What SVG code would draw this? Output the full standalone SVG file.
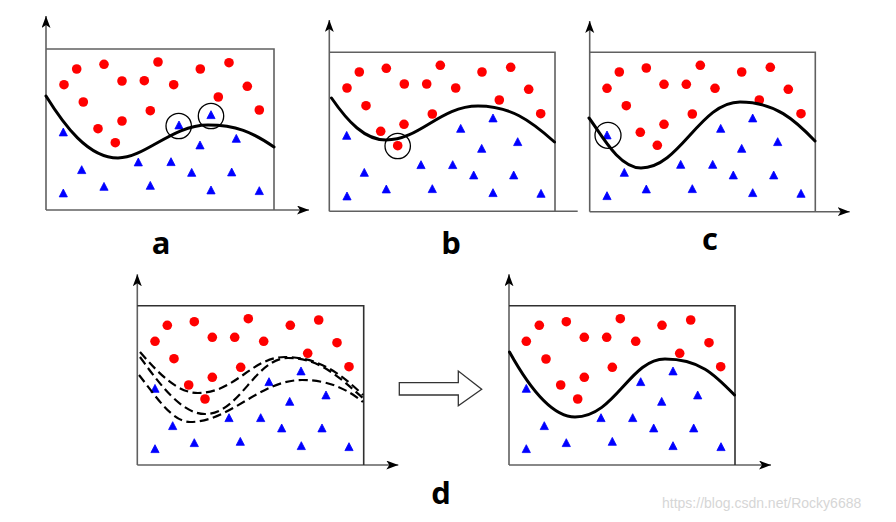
<svg xmlns="http://www.w3.org/2000/svg" width="896" height="522" viewBox="0 0 896 522">
<style>
.ax{stroke:#606060;stroke-width:1.6;fill:none}
.box{stroke:#606060;stroke-width:1.6;fill:none}
.boxd{stroke:#303030;stroke-width:1.6;fill:none}
.cur{stroke:#000;stroke-width:3;fill:none;stroke-linecap:round}
.dash{stroke:#000;stroke-width:2.2;fill:none;stroke-dasharray:9 4.5}
.ring{stroke:#000;stroke-width:1.3;fill:none}
.lab{font-family:"Open Sans","Liberation Sans",sans-serif;font-weight:700;font-size:31px;fill:#000;text-anchor:middle}
.wm{font-family:"Liberation Sans",Arial,sans-serif;font-size:14px;fill:#d6d6d6}
</style>
<defs>
<marker id="ah" markerUnits="userSpaceOnUse" markerWidth="14" markerHeight="10" refX="12" refY="4.5" orient="auto">
<path d="M0,0 L12,4.5 L0,9 L3,4.5Z" fill="#000"/>
</marker>
<circle id="r" r="4.8" fill="#ff0000"/>
<path id="t" d="M0,-4.3 L4.1,3.6 L-4.1,3.6Z" fill="#0000ff" stroke="#0000ff" stroke-width="0.8" stroke-linejoin="round"/>
</defs>

<g id="panel-a">
<path class="ax" d="M46,210 V16" marker-end="url(#ah)"/>
<path class="ax" d="M46,210 H309" marker-end="url(#ah)"/>
<path class="box" d="M46,49 H274 V210"/>
<use href="#r" x="76.7" y="69"/><use href="#r" x="104" y="64.3"/><use href="#r" x="158" y="62"/><use href="#r" x="200.3" y="69"/><use href="#r" x="229" y="62.7"/>
<use href="#r" x="64" y="84.7"/><use href="#r" x="122" y="81"/><use href="#r" x="144.3" y="80.7"/><use href="#r" x="173.7" y="84.7"/><use href="#r" x="247.3" y="86.3"/>
<use href="#r" x="83.3" y="102"/><use href="#r" x="218.3" y="97"/><use href="#r" x="150.3" y="110.7"/><use href="#r" x="259.3" y="110"/>
<use href="#r" x="122" y="121"/><use href="#r" x="98" y="128.7"/><use href="#r" x="115.3" y="142.7"/>
<use href="#t" x="63.3" y="132.3"/><use href="#t" x="179" y="125.3"/><use href="#t" x="211" y="115"/><use href="#t" x="236.3" y="138.7"/><use href="#t" x="200" y="145.3"/>
<use href="#t" x="81.7" y="170"/><use href="#t" x="138.3" y="162.3"/><use href="#t" x="171" y="162"/><use href="#t" x="191.7" y="172.7"/><use href="#t" x="231.7" y="172.3"/>
<use href="#t" x="104" y="186.7"/><use href="#t" x="150.3" y="185.7"/><use href="#t" x="63.3" y="193.3"/><use href="#t" x="211" y="190.3"/><use href="#t" x="259.3" y="191"/>
<path class="cur" d="M46,96 C64,125 88,158 118,158 C145,158 172,125 208,125 C236,125 252,132 274,147"/>
<circle class="ring" cx="178.7" cy="126" r="12.7"/>
<circle class="ring" cx="211" cy="116" r="12.7"/>
<text class="lab" x="161" y="253.5">a</text>
</g>

<g id="panel-b">
<path class="ax" d="M329.3,211.3 V20" marker-end="url(#ah)"/>
<path class="ax" d="M329.3,211.3 H577.7"/>
<path class="box" d="M329.3,52.3 H555 V211.3"/>
<use href="#r" x="359.3" y="72"/><use href="#r" x="386.3" y="68.3"/><use href="#r" x="440.3" y="65.3"/><use href="#r" x="482" y="72"/><use href="#r" x="510.7" y="67.3"/>
<use href="#r" x="347" y="88"/><use href="#r" x="404.3" y="84"/><use href="#r" x="426.7" y="84"/><use href="#r" x="455.7" y="88"/><use href="#r" x="528.7" y="89.3"/>
<use href="#r" x="366" y="105.7"/><use href="#r" x="499.3" y="100"/><use href="#r" x="432.3" y="114"/><use href="#r" x="540.7" y="113.7"/>
<use href="#r" x="404" y="124.3"/><use href="#r" x="380.7" y="131.3"/><use href="#r" x="397.7" y="145.7"/>
<use href="#t" x="346.7" y="135.7"/><use href="#t" x="460.7" y="128.7"/><use href="#t" x="493" y="118.3"/><use href="#t" x="517.7" y="142"/><use href="#t" x="481.7" y="148.7"/>
<use href="#t" x="364.3" y="172.7"/><use href="#t" x="421" y="165"/><use href="#t" x="452.7" y="165"/><use href="#t" x="473.7" y="175.3"/><use href="#t" x="513.7" y="175.3"/>
<use href="#t" x="386.3" y="189.3"/><use href="#t" x="432.3" y="189"/><use href="#t" x="347" y="196.3"/><use href="#t" x="493" y="193"/><use href="#t" x="541" y="193.7"/>
<path class="cur" d="M331.5,98 C348,122 365,140 386,140 C420,140 440,106 478,106 C510,106 530,120 554.5,142"/>
<circle class="ring" cx="397.7" cy="146" r="12.7"/>
<text class="lab" x="451" y="253.5">b</text>
</g>

<g id="panel-c">
<path class="ax" d="M589.7,211.7 V21" marker-end="url(#ah)"/>
<path class="ax" d="M589.7,211.7 H849.7" marker-end="url(#ah)"/>
<path class="box" d="M589.7,52.3 H815.3 V211.7"/>
<use href="#r" x="619.3" y="72"/><use href="#r" x="646.3" y="68"/><use href="#r" x="700.3" y="65.3"/><use href="#r" x="741.7" y="72"/><use href="#r" x="770.3" y="67.3"/>
<use href="#r" x="607" y="88.3"/><use href="#r" x="664" y="84.3"/><use href="#r" x="686.3" y="84.3"/><use href="#r" x="715" y="88.3"/><use href="#r" x="788.3" y="89.3"/>
<use href="#r" x="626.3" y="105.7"/><use href="#r" x="759.3" y="100"/><use href="#r" x="692.3" y="114"/><use href="#r" x="801" y="113.7"/>
<use href="#r" x="664" y="124.3"/><use href="#r" x="640.3" y="132.3"/><use href="#r" x="657.3" y="145.3"/>
<use href="#t" x="607" y="135.3"/><use href="#t" x="720.7" y="128.7"/><use href="#t" x="752.7" y="118.3"/><use href="#t" x="777.7" y="142"/><use href="#t" x="741.7" y="148.7"/>
<use href="#t" x="624.3" y="172.7"/><use href="#t" x="680.7" y="164.7"/><use href="#t" x="712.7" y="164.7"/><use href="#t" x="733.3" y="175.3"/><use href="#t" x="773.7" y="175.3"/>
<use href="#t" x="646.3" y="189.3"/><use href="#t" x="692.3" y="189"/><use href="#t" x="607" y="196"/><use href="#t" x="752.7" y="193"/><use href="#t" x="801" y="193.7"/>
<path class="cur" d="M589,118 C600,132 618,168 641,168 C680,168 700,102 740,102 C775,102 795,120 815,141"/>
<circle class="ring" cx="608" cy="135.3" r="13"/>
<text class="lab" x="710" y="250">c</text>
</g>

<g id="panel-d-left">
<path class="ax" d="M137.3,465 V274.3" marker-end="url(#ah)"/>
<path class="ax" d="M137.3,465 H398.3" marker-end="url(#ah)"/>
<path class="boxd" d="M137.3,305.7 H363.7 V465"/>
<use href="#r" x="167.3" y="325.3"/><use href="#r" x="194.3" y="321.7"/><use href="#r" x="248.3" y="318.7"/><use href="#r" x="290.3" y="325.3"/><use href="#r" x="318.7" y="320"/>
<use href="#r" x="155" y="341.3"/><use href="#r" x="212.3" y="337.3"/><use href="#r" x="234.7" y="337.3"/><use href="#r" x="263.7" y="341.3"/><use href="#r" x="337" y="342.7"/>
<use href="#r" x="174" y="358.7"/><use href="#r" x="307.7" y="353.3"/><use href="#r" x="240.7" y="367.3"/><use href="#r" x="349" y="366.7"/>
<use href="#r" x="212.3" y="377.3"/><use href="#r" x="188.7" y="385"/><use href="#r" x="205" y="399"/>
<use href="#t" x="155" y="388.7"/><use href="#t" x="269" y="382"/><use href="#t" x="301" y="371.3"/><use href="#t" x="326" y="395.3"/><use href="#t" x="289.7" y="401.7"/>
<use href="#t" x="172.7" y="426"/><use href="#t" x="229" y="418"/><use href="#t" x="260.7" y="418"/><use href="#t" x="281.7" y="428.3"/><use href="#t" x="322" y="428.3"/>
<use href="#t" x="194.3" y="443"/><use href="#t" x="240.3" y="441.7"/><use href="#t" x="155" y="449"/><use href="#t" x="301.3" y="446"/><use href="#t" x="349" y="447"/>
<path class="dash" d="M140,352 C160,375 178,393 198,393 C235,393 252,357 285,357 C318,357 340,373 363,395"/>
<path class="dash" d="M140,357 C160,385 182,414 205,414 C240,414 255,358 288,358 C320,358 340,378 363,398"/>
<path class="dash" d="M139,375 C155,395 172,422 190,422 C230,422 260,380 302,380 C330,380 348,390 363,402"/>
</g>

<g id="transition-arrow">
<polygon points="399.3,382.7 458.3,382.7 458.3,371 481.7,389.3 458.3,405.7 458.3,395 399.3,395" fill="#fff" stroke="#333" stroke-width="1.3" stroke-linejoin="miter"/>
</g>

<g id="panel-d-right">
<path class="ax" d="M509,465 V274.3" marker-end="url(#ah)"/>
<path class="ax" d="M509,465 H771" marker-end="url(#ah)"/>
<path class="boxd" d="M509,305.7 H735 V465"/>
<use href="#r" x="539.3" y="325.3"/><use href="#r" x="566.3" y="321.7"/><use href="#r" x="620.3" y="318.7"/><use href="#r" x="662" y="325.3"/><use href="#r" x="690.7" y="320"/>
<use href="#r" x="526.3" y="341.3"/><use href="#r" x="584.3" y="337.3"/><use href="#r" x="606.7" y="337.3"/><use href="#r" x="635.7" y="341.3"/><use href="#r" x="709" y="342.7"/>
<use href="#r" x="546" y="359"/><use href="#r" x="679.7" y="353.3"/><use href="#r" x="612.3" y="367.3"/><use href="#r" x="720.7" y="366.7"/>
<use href="#r" x="584.3" y="377.3"/><use href="#r" x="560.7" y="385"/><use href="#r" x="577.7" y="399"/>
<use href="#t" x="526.3" y="388.7"/><use href="#t" x="640.7" y="382"/><use href="#t" x="673" y="371.3"/><use href="#t" x="697.7" y="395.3"/><use href="#t" x="661.7" y="401.7"/>
<use href="#t" x="544.3" y="426"/><use href="#t" x="601" y="418"/><use href="#t" x="632.7" y="418"/><use href="#t" x="653.7" y="428.3"/><use href="#t" x="693.7" y="428.3"/>
<use href="#t" x="566.3" y="443"/><use href="#t" x="612.3" y="441.7"/><use href="#t" x="526.3" y="449"/><use href="#t" x="673" y="446"/><use href="#t" x="721" y="447"/>
<path class="cur" d="M509.5,352 C525,380 550,417 575,417 C615,417 630,359 665,359 C700,359 715,375 734.5,395"/>
</g>

<text class="lab" x="441" y="504">d</text>
<text class="wm" x="662" y="508">https://blog.csdn.net/Rocky6688</text>
</svg>
